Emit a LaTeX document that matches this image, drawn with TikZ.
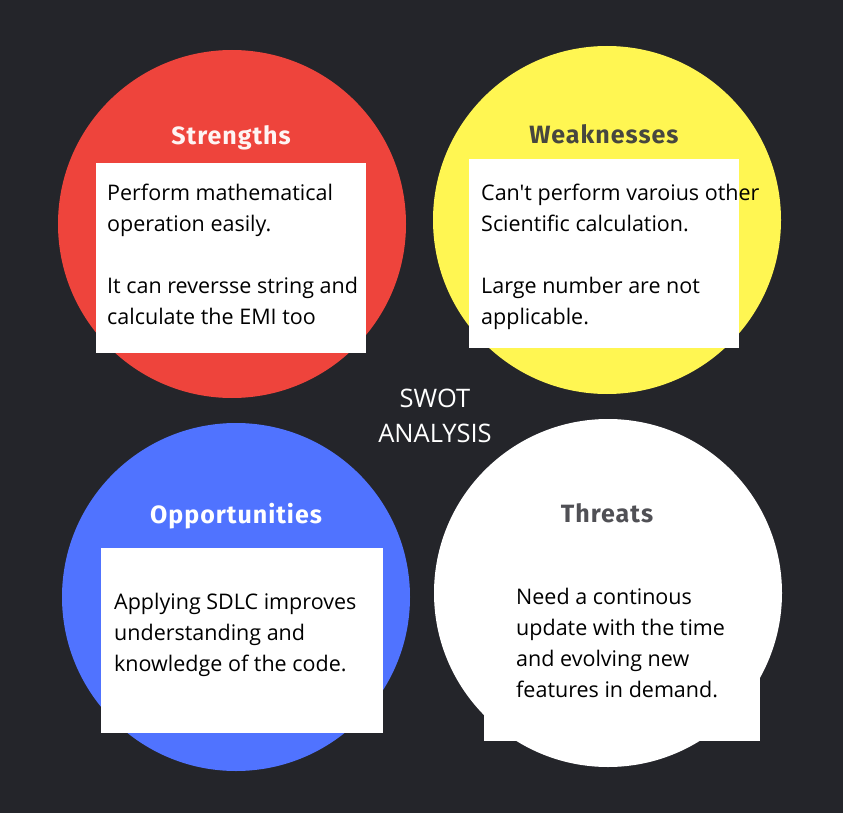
\documentclass[tikz,border=0pt]{standalone}
\usepackage{fontspec}
\setmainfont{Open Sans}[Ligatures=TeXOff]
\newfontfamily\headfont[LetterSpace=4]{Fira Sans}
\begin{document}
\definecolor{bgdark}{HTML}{24252A}
\definecolor{swred}{HTML}{EE443C}
\definecolor{swyellow}{HTML}{FFF652}
\definecolor{swblue}{HTML}{5073FF}
\definecolor{headgray}{HTML}{47473F}
\definecolor{threatgray}{HTML}{505055}
\begin{tikzpicture}[x=1pt,y=-1pt,
  disc/.style={circle,inner sep=0pt,minimum size=348pt},
  card/.style={fill=white,draw=none},
  head/.style={font=\headfont\bfseries\fontsize{25}{29}\selectfont},
  body/.style={align=left,anchor=north west,inner sep=0pt,text=black,
    font=\fontsize{21.5}{31}\selectfont},
  centre/.style={align=center,text=white,font=\fontsize{25.5}{35}\selectfont}]
\fill[bgdark] (0,0) rectangle (843,813);
\useasboundingbox (0,0) rectangle (843,813);
% four quadrant discs
\node[disc,fill=swred]    (sd) at (232,224) {};
\node[disc,fill=swyellow] (wd) at (607,220) {};
\node[disc,fill=swblue]   (od) at (236,597) {};
\node[disc,fill=white]    (td) at (608,593) {};
% white cards
\fill[card] (96,163) rectangle (366,353);
\fill[card] (469,159) rectangle (739,348);
\fill[card] (101,548) rectangle (383,733);
\fill[card] (484,560) rectangle (760,741);
% headings
\node[head,text=white!94!swred] (sh) at (231,138) {Strengths};
\node[head,text=headgray]       (wh) at (604,134) {Weaknesses};
\node[head,text=white]          (oh) at (236,516) {Opportunities};
\node[head,text=threatgray]     (th) at (607,513) {Threats};
% card texts
\node[body] (st) at (107,184) {Perform mathematical\\operation easily.\\[31pt]It can reversse string and\\calculate the EMI too};
\node[body] (wt) at (481,184) {Can't perform varoius other\\Scientific calculation.\\[31pt]Large number are not\\applicable.};
\node[body] (ot) at (114,593) {Applying SDLC improves\\understanding and\\knowledge of the code.};
\node[body] (tt) at (516,588) {Need a continous\\update with the time\\and evolving new\\features in demand.};
% centre label
\node[centre] (cl) at (435,416) {SWOT\\ANALYSIS};
\end{tikzpicture}
\end{document}
